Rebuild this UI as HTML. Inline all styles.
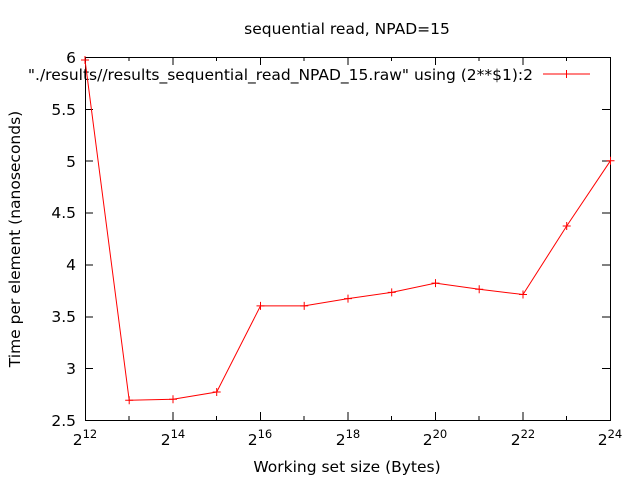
<!DOCTYPE html>
<html><head><meta charset="utf-8"><style>
html,body{margin:0;padding:0;background:#fff;}
svg{display:block;font-family:"DejaVu Sans",sans-serif;}
</style></head><body>
<svg width="640" height="480" viewBox="0 0 640 480" xmlns="http://www.w3.org/2000/svg">
<rect width="640" height="480" fill="#fff"/>
<g stroke="#000" stroke-width="1" fill="none" shape-rendering="crispEdges">
<rect x="85.5" y="57.5" width="525" height="363"/>
<path d="M85 420.5h8M610 420.5h-8M85 368.6h8M610 368.6h-8M85 316.8h8M610 316.8h-8M85 264.9h8M610 264.9h-8M85 213.1h8M610 213.1h-8M85 161.2h8M610 161.2h-8M85 109.4h8M610 109.4h-8M85 57.5h8M610 57.5h-8"/>
<path d="M85.5 420v-8M85.5 57v8M129.2 420v-4M129.2 57v4M173 420v-8M173 57v8M216.7 420v-4M216.7 57v4M260.5 420v-8M260.5 57v8M304.2 420v-4M304.2 57v4M348 420v-8M348 57v8M391.7 420v-4M391.7 57v4M435.5 420v-8M435.5 57v8M479.2 420v-4M479.2 57v4M523 420v-8M523 57v8M566.7 420v-4M566.7 57v4M610.5 420v-8M610.5 57v8"/>
</g>
<g font-size="15.5" fill="#000" text-anchor="end">
<text x="76" y="426">2.5</text><text x="76" y="374">3</text><text x="76" y="322">3.5</text>
<text x="76" y="270">4</text><text x="76" y="218">4.5</text><text x="76" y="167">5</text>
<text x="76" y="115">5.5</text><text x="76" y="63">6</text>
</g>
<g font-size="15.5" fill="#000" text-anchor="middle">
<text x="85" y="445">2<tspan dy="-7" font-size="11.5">12</tspan></text>
<text x="173" y="445">2<tspan dy="-7" font-size="11.5">14</tspan></text>
<text x="260" y="445">2<tspan dy="-7" font-size="11.5">16</tspan></text>
<text x="348" y="445">2<tspan dy="-7" font-size="11.5">18</tspan></text>
<text x="435" y="445">2<tspan dy="-7" font-size="11.5">20</tspan></text>
<text x="523" y="445">2<tspan dy="-7" font-size="11.5">22</tspan></text>
<text x="610" y="445">2<tspan dy="-7" font-size="11.5">24</tspan></text>
<text x="347" y="472">Working set size (Bytes)</text>
<text x="347" y="34">sequential read, NPAD=15</text>
<text transform="translate(20,239) rotate(-90)">Time per element (nanoseconds)</text>
</g>
<text x="533" y="80" font-size="15.5" text-anchor="end">"./results//results_sequential_read_NPAD_15.raw" using (2**$1):2</text>
<g stroke="#f00" stroke-width="1" fill="none">
<path d="M543 74h47M566.5 70v8"/>
<polyline points="85,60 129.2,400.3 173,399.3 216.7,392 260.5,305.9 304.2,305.9 348,298.6 391.7,292.4 435.5,283.1 479.2,289.3 523,294.5 566.7,226 610.5,160.7"/>
<path d="M81 60h8M85 56v8M125.2 400.3h8M129.2 396.3v8M169 399.3h8M173 395.3v8M212.7 392h8M216.7 388v8M256.5 305.9h8M260.5 301.9v8M300.2 305.9h8M304.2 301.9v8M344 298.6h8M348 294.6v8M387.7 292.4h8M391.7 288.4v8M431.5 283.1h8M435.5 279.1v8M475.2 289.3h8M479.2 285.3v8M519 294.5h8M523 290.5v8M562.7 226h8M566.7 222v8M606.5 160.7h8M610.5 156.7v8"/>
</g>
</svg>
</body></html>
